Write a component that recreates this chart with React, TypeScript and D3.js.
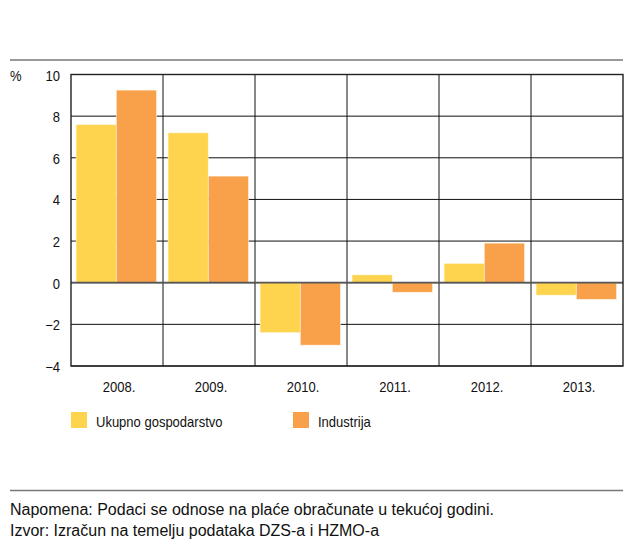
import React from "react";
import * as d3 from "d3";

const categories = ["2008.", "2009.", "2010.", "2011.", "2012.", "2013."];
const seriesNames = ["Ukupno gospodarstvo", "Industrija"];
const ukupno = [7.6, 7.2, -2.4, 0.38, 0.93, -0.6];
const industrija = [9.25, 5.12, -3.0, -0.46, 1.9, -0.8];
const yTicks = [-4, -2, 0, 2, 4, 6, 8, 10];
const colors = ["#FED44F", "#F9A04A"];
const note1 = "Napomena: Podaci se odnose na plaće obračunate u tekućoj godini.";
const note2 = "Izvor: Izračun na temelju podataka DZS-a i HZMO-a";

const W = 625;
const H = 545;
const plot = { left: 71, right: 623, top: 74.5, bottom: 366 };
const chartFont = "'Liberation Sans', Arial, sans-serif";
const noteFont = "'Liberation Sans', Arial, sans-serif";
const SX = 0.93;

function NText(props: { x: number; y: number; anchor?: string; children: React.ReactNode; size?: number }) {
  return (
    <text
      transform={`translate(${props.x},${props.y}) scale(${SX},1)`}
      textAnchor={props.anchor || "start"}
      fontFamily={chartFont}
      fontSize={props.size || 14}
      fill="#111"
    >
      {props.children}
    </text>
  );
}

export default function App() {
  const x0 = d3.scaleBand<string>().domain(categories).range([plot.left, plot.right]).padding(0);
  const bw = x0.bandwidth();
  const x1 = d3.scaleBand<string>().domain(seriesNames).range([bw * 0.055, bw * 0.93]).padding(0);
  const y = d3.scaleLinear().domain([-4, 10]).range([plot.bottom, plot.top]);
  const data = [ukupno, industrija];

  return (
    <svg width={W} height={H} style={{ position: "absolute", left: 0, top: 0, background: "#fff" }}>
      <line x1={10} x2={623} y1={60} y2={60} stroke="#777" strokeWidth={1.3} />
      {yTicks.map((t) => (
        <line key={"g" + t} x1={plot.left} x2={plot.right} y1={y(t)} y2={y(t)} stroke="#111" strokeWidth={1} />
      ))}
      {categories.slice(1).map((c) => (
        <line key={"v" + c} x1={x0(c)!} x2={x0(c)!} y1={plot.top} y2={plot.bottom} stroke="#111" strokeWidth={1} />
      ))}
      {categories.map((c, i) => (
        <g key={c} transform={`translate(${x0(c)},0)`}>
          {seriesNames.map((s, si) => {
            const v = data[si][i];
            return (
              <rect
                key={s}
                x={x1(s)!}
                width={x1.bandwidth()}
                y={y(Math.max(0, v))}
                height={Math.abs(y(v) - y(0))}
                fill={colors[si]}
                stroke="#fff"
                strokeOpacity={0.6}
                strokeWidth={0.8}
              />
            );
          })}
        </g>
      ))}
      <line x1={plot.left} x2={plot.right} y1={y(0)} y2={y(0)} stroke="#555" strokeWidth={1.8} />
      <rect x={plot.left} y={plot.top} width={plot.right - plot.left} height={plot.bottom - plot.top} fill="none" stroke="#222" strokeWidth={1.4} />
      {yTicks.map((t) => (
        <NText key={"t" + t} x={60} y={y(t) + 6} anchor="end">
          {t < 0 ? "\u2212" + Math.abs(t) : String(t)}
        </NText>
      ))}
      <NText x={10} y={y(10) + 6}>%</NText>
      {categories.map((c) => (
        <NText key={"c" + c} x={x0(c)! + bw / 2 + 2} y={391.5} anchor="middle">
          {c}
        </NText>
      ))}
      {seriesNames.map((s, si) => {
        const lx = si === 0 ? 71 : 293;
        return (
          <g key={"l" + s}>
            <rect x={lx} y={412} width={16} height={16} fill={colors[si]} />
            <NText x={lx + 25} y={427}>{s}</NText>
          </g>
        );
      })}
      <line x1={10} x2={623} y1={490.5} y2={490.5} stroke="#777" strokeWidth={1.3} />
      <text x={10} y={515} fontFamily={noteFont} fontSize={16} fill="#111">{note1}</text>
      <text x={10} y={536} fontFamily={noteFont} fontSize={16} fill="#111">{note2}</text>
    </svg>
  );
}
